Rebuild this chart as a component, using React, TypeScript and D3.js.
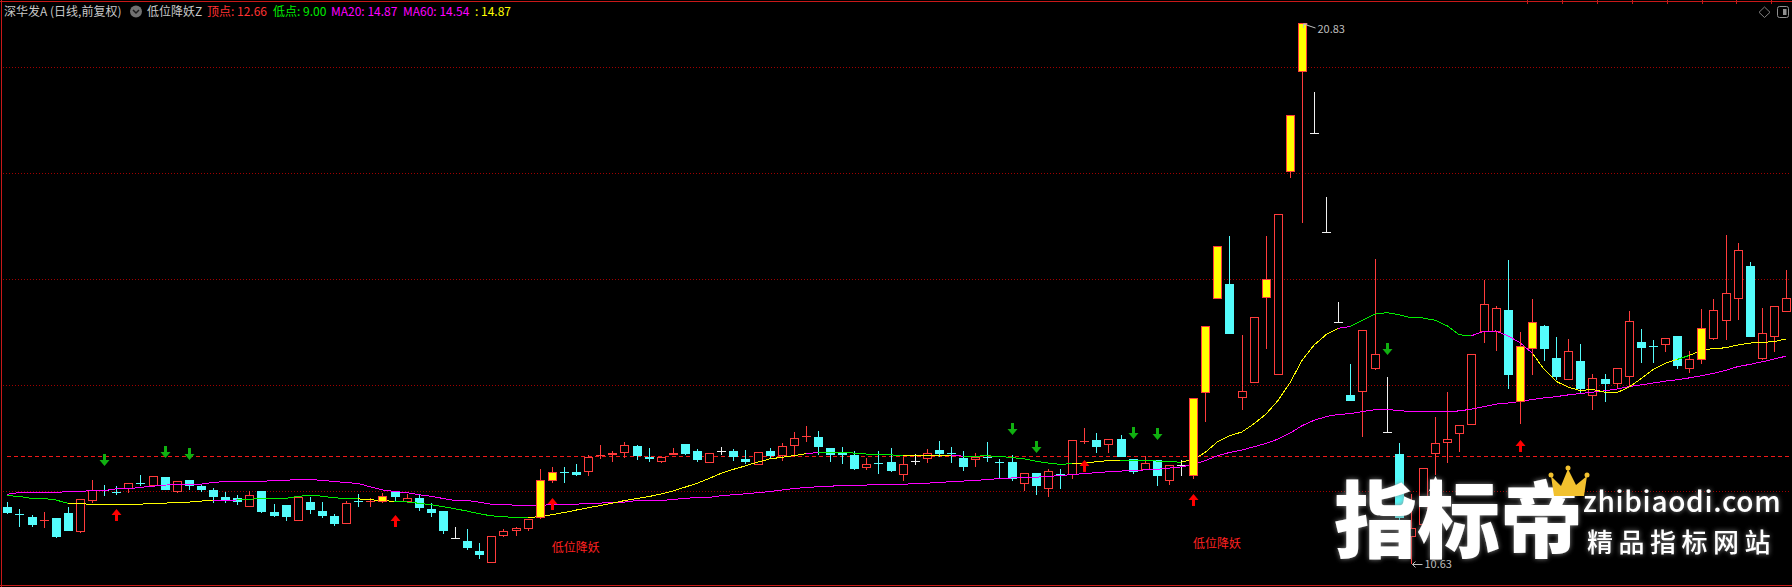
import React from 'react';
import * as d3 from 'd3';

// ---------------- data ----------------
const opens = [
  11.70, 11.57, 11.51, 11.45, 11.49, 11.58, 11.23, 11.81, 12.02, 12.00,
  12.04, 12.17, 12.09, 12.26, 11.99, 12.21, 12.09, 12.02, 11.88, 11.86,
  11.69, 12.00, 11.60, 11.74, 11.44, 11.79, 11.62, 11.53, 11.38, 11.83,
  11.81, 11.80, 11.98, 11.79, 11.86, 11.66, 11.62, 11.11, 11.06, 10.87,
  10.64, 11.16, 11.24, 11.28, 11.50, 12.18, 12.36, 12.35, 12.35, 12.66,
  12.68, 12.72, 12.85, 12.64, 12.55, 12.67, 12.89, 12.75, 12.53, 12.75,
  12.75, 12.60, 12.50, 12.75, 12.66, 12.84, 13.02, 13.02, 12.82, 12.74,
  12.68, 12.44, 12.54, 12.55, 12.31, 12.57, 12.60, 12.77, 12.74, 12.62,
  12.59, 12.65, 12.55, 12.55, 12.14, 12.34, 12.04, 12.33, 12.31, 12.94,
  12.96, 12.86, 12.98, 12.60, 12.39, 12.58, 12.19, 12.50, 12.29, 13.84,
  15.62, 15.90, 13.76, 14.03, 15.65, 14.18, 18.02, 19.90, 18.76, 16.89,
  15.19, 13.82, 13.87, 14.30, 13.12, 12.70, 11.13, 11.35, 12.69, 12.90,
  13.08, 13.25, 15.00, 15.00, 15.42, 13.68, 14.68, 15.11, 14.51, 14.09,
  14.45, 13.79, 14.11, 14.01, 14.16, 14.81, 14.74, 14.75, 14.92, 14.30,
  14.48, 14.87, 15.20, 15.62, 16.25, 14.50, 14.90, 15.37,
];
const highs = [
  11.79, 11.66, 11.54, 11.60, 11.49, 11.69, 11.84, 12.21, 12.11, 12.09,
  12.16, 12.30, 12.28, 12.26, 12.18, 12.21, 12.13, 12.05, 11.98, 11.92,
  12.00, 12.00, 11.75, 11.74, 11.89, 11.89, 11.79, 11.57, 11.82, 11.94,
  11.86, 11.96, 11.99, 11.94, 11.92, 11.77, 11.62, 11.32, 11.28, 11.02,
  11.15, 11.28, 11.32, 11.48, 12.42, 12.45, 12.45, 12.51, 12.67, 12.87,
  12.75, 12.92, 12.87, 12.81, 12.65, 12.81, 12.89, 12.79, 12.71, 12.83,
  12.79, 12.77, 12.73, 12.81, 12.91, 13.11, 13.23, 13.13, 12.82, 12.83,
  12.75, 12.62, 12.75, 12.81, 12.65, 12.69, 12.79, 12.94, 12.83, 12.75,
  12.72, 12.92, 12.60, 12.68, 12.34, 12.34, 12.42, 12.42, 12.96, 13.19,
  13.09, 12.98, 13.06, 12.60, 12.66, 12.58, 12.49, 12.58, 13.75, 15.11,
  16.62, 16.81, 14.94, 15.28, 16.81, 17.23, 19.09, 20.83, 19.53, 17.54,
  15.57, 14.39, 15.03, 16.38, 14.15, 12.91, 11.95, 12.44, 13.39, 13.86,
  13.25, 14.59, 15.98, 15.50, 16.35, 15.00, 15.62, 15.13, 14.91, 14.87,
  14.77, 14.21, 14.21, 14.32, 15.40, 15.06, 14.85, 14.88, 14.92, 14.64,
  15.43, 15.62, 16.83, 16.68, 16.32, 15.45, 15.50, 16.17,
];
const lows = [
  11.57, 11.33, 11.33, 11.31, 11.11, 11.25, 11.21, 11.77, 11.91, 11.93,
  11.96, 12.09, 12.09, 12.02, 11.97, 12.02, 11.99, 11.78, 11.78, 11.74,
  11.69, 11.59, 11.51, 11.43, 11.44, 11.57, 11.49, 11.34, 11.38, 11.70,
  11.70, 11.77, 11.82, 11.79, 11.63, 11.51, 11.19, 11.11, 10.89, 10.72,
  10.64, 11.13, 11.16, 11.24, 11.48, 12.15, 12.16, 12.28, 12.29, 12.61,
  12.55, 12.63, 12.59, 12.55, 12.53, 12.67, 12.67, 12.55, 12.53, 12.67,
  12.57, 12.51, 12.50, 12.60, 12.57, 12.65, 12.93, 12.68, 12.55, 12.51,
  12.40, 12.40, 12.33, 12.36, 12.18, 12.50, 12.52, 12.64, 12.52, 12.38,
  12.46, 12.55, 12.25, 12.18, 12.00, 11.92, 11.88, 12.03, 12.23, 12.89,
  12.71, 12.72, 12.64, 12.32, 12.39, 12.10, 12.12, 12.28, 12.23, 13.31,
  15.62, 14.97, 13.53, 14.03, 14.68, 14.18, 17.90, 17.06, 18.76, 16.89,
  15.19, 13.69, 13.01, 14.28, 13.12, 11.45, 10.63, 11.30, 12.30, 12.53,
  12.74, 13.25, 14.80, 14.64, 13.93, 13.27, 14.19, 14.46, 14.09, 14.09,
  13.84, 13.52, 13.67, 13.92, 13.97, 14.42, 14.42, 14.63, 14.31, 14.23,
  14.40, 14.84, 14.85, 15.23, 14.91, 14.48, 14.63, 15.37,
];
const closes = [
  11.58, 11.56, 11.36, 11.46, 11.14, 11.25, 11.84, 12.01, 12.01, 11.99,
  12.16, 12.16, 12.28, 12.02, 12.18, 12.10, 12.02, 11.89, 11.82, 11.79,
  11.92, 11.61, 11.53, 11.51, 11.89, 11.64, 11.53, 11.38, 11.77, 11.82,
  11.82, 11.91, 11.89, 11.86, 11.68, 11.58, 11.25, 11.11, 10.92, 10.79,
  11.15, 11.24, 11.30, 11.47, 12.21, 12.36, 12.35, 12.31, 12.65, 12.67,
  12.72, 12.86, 12.66, 12.60, 12.65, 12.72, 12.70, 12.59, 12.71, 12.75,
  12.64, 12.55, 12.73, 12.66, 12.84, 13.00, 13.04, 12.83, 12.68, 12.68,
  12.42, 12.51, 12.53, 12.38, 12.51, 12.57, 12.71, 12.70, 12.72, 12.46,
  12.65, 12.64, 12.54, 12.23, 12.34, 12.09, 12.37, 12.32, 12.96, 12.95,
  12.83, 12.98, 12.65, 12.35, 12.52, 12.29, 12.49, 12.50, 13.75, 15.11,
  16.62, 14.97, 13.89, 15.28, 16.00, 17.23, 19.09, 20.83, 18.76, 16.89,
  15.19, 13.69, 15.03, 14.58, 13.12, 11.50, 11.31, 12.44, 12.91, 12.99,
  13.25, 14.59, 15.52, 15.46, 14.18, 14.73, 15.19, 14.68, 14.16, 14.64,
  13.92, 14.13, 14.01, 14.32, 15.20, 14.70, 14.73, 14.88, 14.36, 14.50,
  15.08, 15.41, 15.73, 16.54, 14.91, 14.98, 15.50, 15.65,
];

// moving-average values before enough history exists
const ma20Head = [
  11.91, 11.90, 11.86, 11.86, 11.83, 11.77, 11.76, 11.75, 11.75, 11.75,
  11.75, 11.75, 11.77, 11.77, 11.79, 11.79, 11.81, 11.82, 11.82,
];
const ma60Head = [
  11.94, 11.97, 11.97, 11.97, 11.97, 11.99, 11.99, 12.01, 12.01, 12.04,
  12.04, 12.07, 12.09, 12.11, 12.13, 12.13, 12.13, 12.16, 12.18, 12.18,
  12.18, 12.18, 12.20, 12.20, 12.22, 12.22, 12.20, 12.18, 12.16, 12.14,
  12.08, 12.02, 11.99, 11.97, 11.93, 11.90, 11.86, 11.82, 11.82, 11.79,
  11.75, 11.75, 11.73, 11.73, 11.72, 11.75, 11.75, 11.75, 11.77, 11.77,
  11.79, 11.79, 11.82, 11.82, 11.82, 11.84, 11.86, 11.88, 11.88,
];
// state of the colored MA20 line, as runs of [state, bar count]
const ma20Runs: [string, number][] = [
  ['fall', 6], ['rise', 12], ['none', 2], ['fall', 10], ['rise', 3], ['fall', 11],
  ['rise', 23], ['none', 1], ['fall', 7], ['rise', 4], ['none', 1], ['fall', 9],
  ['rise', 4], ['fall', 5], ['rise', 13], ['none', 1], ['fall', 10], ['none', 5],
  ['rise', 12], ['fall', 1], ['rise', 8],
];

const signalBars = [31, 44, 45, 98, 99, 100, 104, 106, 107, 125, 126, 140];
const buyArrowBars = [9, 32, 45, 89, 98, 125];
const sellArrowBars = [8, 13, 15, 83, 85, 93, 95, 114];
const textBars = [45, 98];
const signalText = '低位降妖';
const gridPrices = [12, 14, 16, 18, 20];
const peakLevel = 12.66;
const troughLevel = 9.0;

const headerTitle = '深华发A (日线,前复权)';
const indicatorName = '低位降妖Z';

// ---------------- styles ----------------
const RED = '#FF3C3C';
const CYAN = '#54FCFC';
const YELLOW = '#FFFF00';
const WHITE = '#F0F0F0';
const MAGENTA = '#FF00FF';
const GREEN_LINE = '#00F000';
const ARROW_GREEN = '#10B010';
const FONT = '"Noto Sans CJK SC", "Noto Sans", sans-serif';

export default function App() {
  const n = closes.length;
  const x = d3.scaleLinear().domain([0, n - 1]).range([7.3, 1786]);
  const y = d3.scaleLinear().domain([12, 20]).range([491, 67]);

  const movAvg = (period: number, head: number[]) =>
    closes.map((_, i) =>
      i >= period - 1 ? (d3.mean(closes.slice(i - period + 1, i + 1)) as number) : head[i]
    );
  const ma20 = movAvg(20, ma20Head);
  const ma60 = movAvg(60, ma60Head);

  const line = d3
    .line<number>()
    .x((_, i) => x(i))
    .y((d) => y(d));

  const states: string[] = ma20Runs.flatMap(([s, k]) => Array(k).fill(s));
  // build colored segments (including plain ones)
  const segs: { state: string; from: number; to: number }[] = [];
  for (let i = 1; i < n; i++) {
    const s = states[i];
    const last = segs[segs.length - 1];
    if (last && last.state === s && last.to === i - 1) last.to = i;
    else segs.push({ state: s, from: i - 1, to: i });
  }
  const segPath = (from: number, to: number) =>
    d3
      .line<number>()
      .x((i) => x(i))
      .y((i) => y(ma20[i]))(d3.range(from, to + 1)) as string;
  const segColor = (s: string) => (s === 'rise' ? YELLOW : s === 'fall' ? GREEN_LINE : MAGENTA);

  const signalSet = new Set(signalBars);

  const candle = (i: number) => {
    const o = opens[i], c = closes[i], h = highs[i], l = lows[i];
    const cx = Math.round(x(i));
    const px = cx + 0.5;
    const yh = Math.round(y(h)), yl = Math.round(y(l));
    const yo = Math.round(y(o)), yc = Math.round(y(c));
    const top = Math.min(yo, yc), bot = Math.max(yo, yc);
    if (signalSet.has(i)) {
      return (
        <g key={i}>
          <line x1={px} x2={px} y1={yh} y2={yl} stroke={RED} />
          <rect x={cx - 3.5} y={top + 0.5} width={8} height={Math.max(bot - top - 1, 1)} fill={YELLOW} stroke={RED} />
        </g>
      );
    }
    if (c === o) {
      return (
        <g key={i}>
          <line x1={px} x2={px} y1={yh} y2={Math.max(yl, yc + 1)} stroke={WHITE} />
          <line x1={cx - 4} x2={cx + 5} y1={yc + 0.5} y2={yc + 0.5} stroke={WHITE} />
        </g>
      );
    }
    const col = c > o ? RED : CYAN;
    if (bot - top <= 1) {
      return (
        <g key={i}>
          <line x1={px} x2={px} y1={yh} y2={yl} stroke={col} />
          <line x1={cx - 4} x2={cx + 5} y1={yc + 0.5} y2={yc + 0.5} stroke={col} />
        </g>
      );
    }
    if (c > o) {
      return (
        <g key={i}>
          {yh < top && <line x1={px} x2={px} y1={yh} y2={top} stroke={RED} />}
          {yl > bot && <line x1={px} x2={px} y1={bot} y2={yl} stroke={RED} />}
          <rect x={cx - 3.5} y={top + 0.5} width={8} height={bot - top - 1} fill="#000" stroke={RED} />
        </g>
      );
    }
    return (
      <g key={i}>
        <line x1={px} x2={px} y1={yh} y2={yl} stroke={CYAN} />
        <rect x={cx - 4} y={top} width={9} height={bot - top} fill={CYAN} />
      </g>
    );
  };

  const normalBars = d3.range(n).filter((i) => !signalSet.has(i));

  const hiIdx = d3.maxIndex(highs);
  const loIdx = d3.minIndex(lows);
  const hx = Math.round(x(hiIdx)) + 0.5, hy = Math.round(y(highs[hiIdx]));
  const lx = Math.round(x(loIdx)) + 0.5, ly = Math.round(y(lows[loIdx])) + 0.5;

  const last = n - 1;
  const fmt = d3.format('.2f');

  return (
    <div>
      <style>{`body{margin:0;background:#000;}`}</style>
      <svg width={1792} height={587} style={{ display: 'block', position: 'absolute', left: 0, top: 0 }} fontFamily={FONT}>
        <defs>
          <filter id="wmglow" x="-10%" y="-20%" width="120%" height="140%">
            <feDropShadow dx="0" dy="0" stdDeviation="2.5" floodColor="#8a8a8a" floodOpacity="0.95" />
          </filter>
        </defs>
        <rect x={0} y={0} width={1792} height={587} fill="#000" />

        {/* frame */}
        <line x1={0} x2={1792} y1={1.5} y2={1.5} stroke="#C81818" />
        {d3.range(8).map((k) => (
          <line key={k} x1={Math.round(1527 + k * 34.9) + 0.5} x2={Math.round(1527 + k * 34.9) + 0.5} y1={0} y2={4} stroke="#C81818" />
        ))}
        <line x1={1.5} x2={1.5} y1={0} y2={587} stroke="#C81818" />
        <line x1={0} x2={1792} y1={585.5} y2={585.5} stroke="#C81818" />

        {/* grid */}
        {gridPrices.map((p) => (
          <line key={p} x1={3} x2={1790} y1={Math.round(y(p)) + 0.5} y2={Math.round(y(p)) + 0.5} stroke="#A00000" strokeDasharray="1 2" />
        ))}
        <line x1={7} x2={1790} y1={Math.round(y(peakLevel)) + 0.5} y2={Math.round(y(peakLevel)) + 0.5} stroke="#F01818" strokeDasharray="4 3" />

        {/* normal candles */}
        <g shapeRendering="crispEdges">{normalBars.map(candle)}</g>

        {/* moving averages */}
        <g shapeRendering="crispEdges" fill="none" strokeWidth={1}>
          <path d={line(ma60) as string} stroke={MAGENTA} />
          {segs.map((s, k) => (
            <path key={k} d={segPath(s.from, s.to)} stroke={segColor(s.state)} />
          ))}
        </g>

        {/* signal candles */}
        <g shapeRendering="crispEdges">{signalBars.map(candle)}</g>

        {/* arrows */}
        {sellArrowBars.map((i) => {
          const cx = Math.round(x(i)) + 0.5;
          const tip = Math.round(y(highs[i] * 1.03));
          return (
            <path key={'s' + i} fill={ARROW_GREEN}
              d={`M${cx - 1.5},${tip - 12}L${cx + 1.5},${tip - 12}L${cx + 1.5},${tip - 6}L${cx + 5},${tip - 6}L${cx},${tip}L${cx - 5},${tip - 6}L${cx - 1.5},${tip - 6}Z`} />
          );
        })}
        {buyArrowBars.map((i) => {
          const cx = Math.round(x(i)) + 0.5;
          const t = Math.round(y(lows[i] * 0.977));
          return (
            <path key={'b' + i} fill="#FF0000"
              d={`M${cx},${t}L${cx + 5},${t + 6}L${cx + 1.5},${t + 6}L${cx + 1.5},${t + 12}L${cx - 1.5},${t + 12}L${cx - 1.5},${t + 6}L${cx - 5},${t + 6}Z`} />
          );
        })}
        {textBars.map((i) => (
          <text key={'t' + i} x={x(i)} y={y(lows[i] * 0.9)} dy="0.35em" fontSize={12} fill="#FF2020">
            {signalText}
          </text>
        ))}

        {/* extreme labels */}
        <g stroke="#BEBEBE" fill="none">
          <path d={`M${hx + 1},${hy + 1}L${hx + 13},${hy + 5}`} />
          <path d={`M${hx + 1},${hy + 5}L${hx + 1},${hy + 1}L${hx + 5},${hy + 1}`} />
          <path d={`M${lx + 1},${ly}L${lx + 11},${ly}`} />
          <path d={`M${lx + 4},${ly - 3}L${lx + 1},${ly}L${lx + 4},${ly + 3}`} />
        </g>
        <text x={hx + 15} y={hy + 6} dy="0.35em" fontSize={11} fill="#BEBEBE">{fmt(highs[hiIdx])}</text>
        <text x={lx + 13} y={ly} dy="0.35em" fontSize={11} fill="#BEBEBE">{fmt(lows[loIdx])}</text>

        {/* header */}
        <g fontSize={12}>
          <text x={4} y={16} fill="#C8C8C8">{headerTitle}</text>
          <circle cx={136} cy={11.5} r={6} fill="#707070" />
          <path d="M133,10 L136,13 L139,10" stroke="#1a1a1a" strokeWidth={1.5} fill="none" />
          <text x={147} y={16} fill="#C8C8C8">{indicatorName}</text>
          <text x={207} y={16} fill="#FF3232">{`顶点: ${fmt(peakLevel)}`}</text>
          <text x={273} y={16} fill="#00EE00">{`低点: ${fmt(troughLevel)}`}</text>
          <text x={331} y={16} fill={MAGENTA}>{`MA20: ${fmt(ma20[last])}`}</text>
          <text x={403} y={16} fill={MAGENTA}>{`MA60: ${fmt(ma60[last])}`}</text>
          <text x={475} y={16} fill={YELLOW}>{`: ${fmt(ma20[last])}`}</text>
        </g>

        {/* top-right icons */}
        <path d="M1764.5,7 L1770,12.3 L1764.5,17.5 L1759,12.3 Z" fill="none" stroke="#808080" />
        <rect x={1777.5} y={6.5} width={11} height={11} rx={2} fill="none" stroke="#909090" />
        <rect x={1783} y={9} width={3.5} height={6} fill="#909090" />

        {/* watermark */}
        <g filter="url(#wmglow)">
          <text x={1334} y={551} fontSize={83} fontWeight={900} fill="#FFFFFF">指标帝</text>
          <path d="M1429,491 L1435.5,476 L1442,491 L1438,491 L1438,500 L1433,500 L1433,491 Z" fill="#FFFFFF" />
          <text x={1583} y={512} fontSize={28} fontWeight={500} letterSpacing={0.7} fill="#FFFFFF">zhibiaodi.com</text>
          <text x={1587} y={552} fontSize={26} fontWeight={500} letterSpacing={5.5} fill="#FFFFFF">精品指标网站</text>
        </g>
        <g>
          <path d="M1554,496 L1551,476 L1561,486 L1568,469 L1576,485 L1587,476 L1584,496 Z" fill="#F2C12E" />
          <circle cx={1551} cy={475} r={2.5} fill="#F2C12E" />
          <circle cx={1568} cy={468} r={2.5} fill="#F2C12E" />
          <circle cx={1587} cy={475} r={2.5} fill="#F2C12E" />
        </g>
      </svg>
    </div>
  );
}
